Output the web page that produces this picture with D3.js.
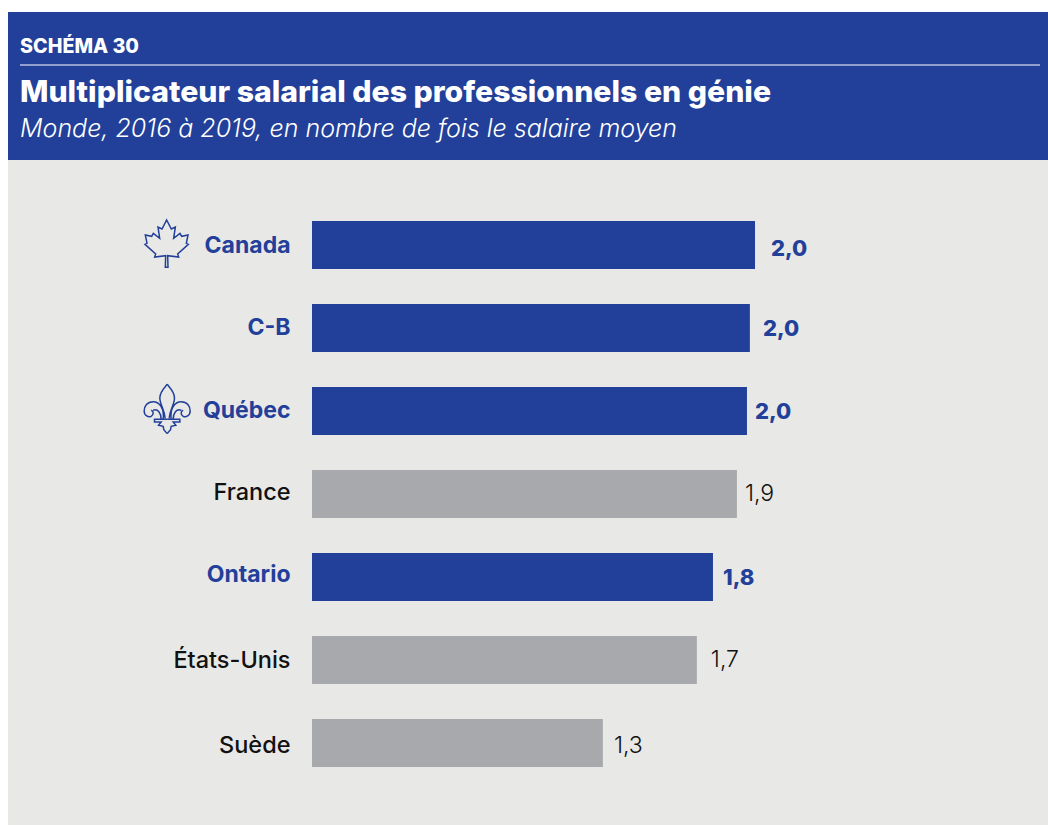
<!DOCTYPE html>
<html><head><meta charset="utf-8">
<script src="https://cdn.jsdelivr.net/npm/d3@7"></script>
<style>html,body{margin:0;padding:0;background:#fff}svg{display:block}</style>
</head><body><div id="chart"></div>
<script>
const categories = ["Canada","C-B","Québec","France","Ontario","États-Unis","Suède"];
const barValues = [1.98,1.957,1.944,1.899,1.792,1.72,1.3];
const valueLabels = ["2,0","2,0","2,0","1,9","1,8","1,7","1,3"];
const highlighted = ["Canada","C-B","Québec","Ontario"];
const labelGaps = [16,13,8,8,10,14,11];
const catDy = [32,31,31,30,29,32,34];
const valDy = [35,32,32,31,32,31,34];
const BLUE="#224099", GREY="#a7a9ac", BG="#e8e8e7";
const W=1048,H=825;
const svg=d3.select("#chart").append("svg").attr("width",W).attr("height",H);
svg.append("rect").attr("x",8).attr("y",160).attr("width",W-8).attr("height",H-160).attr("fill",BG);
svg.append("rect").attr("x",8).attr("y",12).attr("width",W-8).attr("height",148).attr("fill",BLUE);
svg.append("line").attr("x1",20).attr("x2",1040).attr("y1",65).attr("y2",65).attr("stroke","#fff").attr("stroke-width",1);
const F="Inter, sans-serif";
svg.append("text").attr("x",20).attr("y",53).attr("fill","#fff").attr("font-family",F).attr("font-weight",800).attr("font-size",20).attr("textLength",119).attr("lengthAdjust","spacingAndGlyphs").text("SCHÉMA 30");
svg.append("text").attr("x",20).attr("y",102).attr("fill","#fff").attr("font-family",F).attr("font-weight",800).attr("font-size",29.5).attr("textLength",751).attr("lengthAdjust","spacingAndGlyphs").text("Multiplicateur salarial des professionnels en génie");
svg.append("text").attr("x",20).attr("y",137).attr("fill","#fff").attr("font-family",F).attr("font-style","italic").attr("font-weight",300).attr("font-size",25).attr("textLength",657).attr("lengthAdjust","spacingAndGlyphs").text("Monde, 2016 à 2019, en nombre de fois le salaire moyen");

const x=d3.scaleLinear().domain([0,2]).range([312,759.5]);
const y=d3.scaleBand().domain(categories).range([221,767]).paddingInner(35/83).paddingOuter(0);
const isH=d=>highlighted.includes(d);
const g=svg.append("g");
g.selectAll("rect").data(categories).join("rect")
  .attr("x",x(0)).attr("y",d=>y(d)).attr("height",y.bandwidth())
  .attr("width",(d,i)=>x(barValues[i])-x(0))
  .attr("fill",d=>isH(d)?BLUE:GREY);
g.selectAll("text.cat").data(categories).join("text").attr("class","cat")
  .attr("x",290.5).attr("y",(d,i)=>y(d)+catDy[i]).attr("text-anchor","end")
  .attr("font-family",F).attr("font-size",d=>isH(d)?23:23.5)
  .attr("font-weight",d=>isH(d)?700:500)
  .attr("fill",d=>isH(d)?BLUE:"#111").text(d=>d);
g.selectAll("text.val").data(categories).join("text").attr("class","val")
  .attr("x",(d,i)=>x(barValues[i])+labelGaps[i]).attr("y",(d,i)=>y(d)+valDy[i])
  .attr("font-family",F).attr("font-size",d=>isH(d)?22:23)
  .attr("font-weight",d=>isH(d)?800:300)
  .attr("fill",d=>isH(d)?BLUE:"#111")
  .text((d,i)=>valueLabels[i]);

// icons (zoomed-crop coordinates, scaled by 1/3)
const leaf=[[110,45],[124,72],[136,66],[131,100],[150,85],[155,94],[174,90],[169,115],[175,118],[143,147],[146,156],[113,152],[114,187],[106,187],[107,152],[74,156],[77,147],[45,118],[51,115],[46,90],[65,94],[70,85],[89,100],[84,66],[96,72]];
svg.append("g").attr("transform","translate(130,205) scale(0.3333)")
  .append("path").attr("d",d3.line()(leaf)+"Z").attr("fill","none").attr("stroke",BLUE).attr("stroke-width",4.5).attr("stroke-linejoin","miter");
const half="M110 538C120 550 132 562 132 578C132 600 117 615 116 640"+
 "M122 643C118 612 132 590 152 590C170 590 179 604 179 618C179 632 166 638 158 634C150 630 150 618 158 616"+
 "M128 643C128 625 138 610 152 616"+
 "M110 643H148V651H128L136 661L122 664L120 674L110 686";
const fl=svg.append("g").attr("transform","translate(130.5,205) scale(0.3333)");
[1,-1].forEach(s=>{
  fl.append("path").attr("d",half).attr("transform",s<0?"translate(220,0) scale(-1,1)":null)
    .attr("fill","none").attr("stroke",BLUE).attr("stroke-width",4.5).attr("stroke-linejoin","miter");
});
</script></body></html>
